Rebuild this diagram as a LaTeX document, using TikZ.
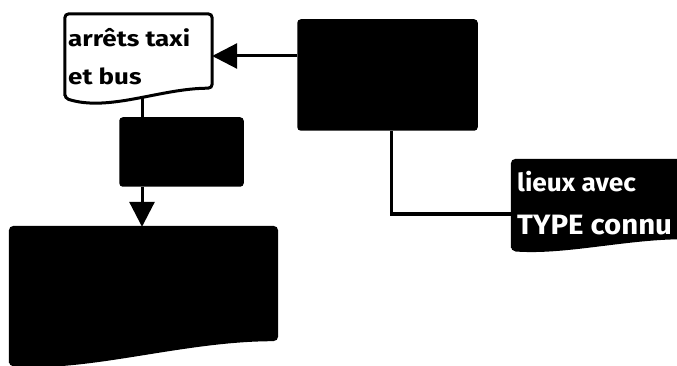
\documentclass[tikz,border=0pt]{standalone}
\usepackage{fontspec}
\setmainfont{Fira Sans}
\usetikzlibrary{arrows.meta,calc}

% Wavy-bottom document outline drawn around a named (invisible) box node.
% #1 node name, #2 path options, #3 rise of the right bottom corner,
% #4 depth of the dip near the left.
\newcommand\wavydoc[4]{%
  \path[#2,rounded corners=4pt]
    (#1.south west) -- (#1.north west) -- (#1.north east)
    -- ($(#1.south east)+(0,-#3)$)
    .. controls ($(#1.south east)!0.35!(#1.south west)+(0,-#3)$)
       and ($(#1.south west)!0.3!(#1.south east)+(0,#4)$)
    .. (#1.south west) -- cycle;}

% wide bold lettering
\newcommand\widetext[2]{\scalebox{#1}[1]{#2}}

\tikzset{
  anchorbox/.style={rectangle,draw=none,inner sep=0pt},
  darkbox/.style={rectangle,fill=black,draw=black,line width=1.5pt,rounded corners=3pt},
  conn/.style={line width=3pt,draw=black},
  bigarrow/.style={conn,-{Triangle[length=25pt,width=25pt]}},
  doctext/.style={font=\bfseries\fontsize{22}{26}\selectfont,anchor=base west,inner sep=0pt},
  inverse/.style={font=\bfseries\fontsize{25}{30}\selectfont,text=white,anchor=base west,inner sep=0pt},
  inversebig/.style={inverse,font=\bfseries\fontsize{28}{32}\selectfont}
}

\begin{document}
\begin{tikzpicture}[x=1pt,y=-1pt]
  \clip (0,0) rectangle (677,366);
  \fill[white] (0,0) rectangle (677,366);

  % layout boxes
  \node[anchorbox,minimum width=147pt,minimum height=84pt] (taxi) at (138.5,56) {};
  \node[darkbox,minimum width=179pt,minimum height=110pt] (src) at (387.5,75) {};
  \node[darkbox,minimum width=123pt,minimum height=68pt] (mid) at (181.5,152) {};
  \node[anchorbox,minimum width=267pt,minimum height=138pt] (big) at (143.5,296) {};
  \node[anchorbox,minimum width=176pt,minimum height=90pt] (rdoc) at (600,205) {};

  \coordinate (drop) at (142,92);
  \coordinate (bend) at (391,214);

  % stub from the bus-stop document down to the middle box
  \draw[conn] (drop) -- (drop |- mid.north);

  % documents
  \wavydoc{taxi}{draw=black,fill=white,line width=3pt}{10}{14}
  \wavydoc{big}{draw=black,fill=black,line width=2pt}{25}{6}
  \wavydoc{rdoc}{draw=black,fill=black,line width=2pt}{12}{4}

  % texts
  \node[doctext] (t1a) at (68,47) {\widetext{1.18}{arrêts taxi}};
  \node[doctext] (t1b) at (68,85) {\widetext{1.18}{et bus}};
  \node[inverse] (t2a) at (517,192) {\widetext{1.05}{lieux avec}};
  \node[inversebig] (t2b) at (517,234) {\widetext{1.05}{TYPE connu}};

  % connectors
  \draw[bigarrow] (src.west |- taxi.east) -- (taxi.east);
  \draw[bigarrow] (mid.south -| drop) -- (big.north -| drop);
  \draw[conn] (src.south -| bend) -- (bend) -- (bend -| rdoc.west);
\end{tikzpicture}
\end{document}
